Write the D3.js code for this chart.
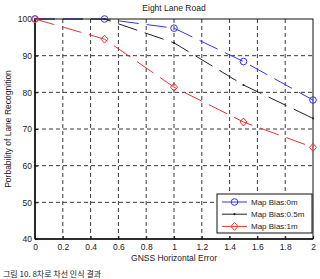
<!DOCTYPE html>
<html>
<head>
<meta charset="utf-8">
<script src="https://cdn.jsdelivr.net/npm/d3@7"></script>
<style>
  body { margin: 0; background: #fff; }
  text { font-family: "Liberation Sans", Arial, sans-serif; fill: #222; }
</style>
</head>
<body>
<svg id="chart" width="320" height="279"></svg>
<script>
// data
const errors = [0, 0.5, 1, 1.5, 2];
const bias0 = [100, 100, 97.5, 88.4, 77.9];
const bias05 = [100, 100, 93.5, 82, 72.9];
const bias1 = [100, 94.5, 81.4, 71.9, 65];
const seriesNames = ["Map Bias:0m", "Map Bias:0.5m", "Map Bias:1m"];
const xTicks = [0, 0.2, 0.4, 0.6, 0.8, 1, 1.2, 1.4, 1.6, 1.8, 2];
const yTicks = [40, 50, 60, 70, 80, 90, 100];

const svg = d3.select("#chart");
const m = {left: 35, right: 313, top: 19, bottom: 239};

const x = d3.scaleLinear().domain([0, 2]).range([m.left, m.right]);
const y = d3.scaleLinear().domain([40, 100]).range([m.bottom, m.top]);

// grid
svg.append("g").selectAll("line").data(xTicks.slice(1, -1)).enter().append("line")
    .attr("x1", d => x(d)).attr("x2", d => x(d))
    .attr("y1", m.top).attr("y2", m.bottom)
    .attr("stroke", "#222").attr("stroke-width", 0.9).attr("stroke-dasharray", "4,3");
svg.append("g").selectAll("line").data(yTicks.slice(1, -1)).enter().append("line")
    .attr("y1", d => y(d)).attr("y2", d => y(d))
    .attr("x1", m.left).attr("x2", m.right)
    .attr("stroke", "#222").attr("stroke-width", 0.9).attr("stroke-dasharray", "4,3");

// axes
const xAxis = d3.axisBottom(x).tickValues(xTicks).tickSize(-3).tickPadding(5)
    .tickFormat(d => d3.format("~g")(d));
const yAxis = d3.axisLeft(y).tickValues(yTicks).tickSize(-3).tickPadding(3);
const gx = svg.append("g").attr("transform", `translate(0,${m.bottom})`).call(xAxis);
const gy = svg.append("g").attr("transform", `translate(${m.left},0)`).call(yAxis);
[gx, gy].forEach(g => {
    g.select(".domain").remove();
    g.selectAll("line").attr("stroke", "#222");
    g.selectAll("text").style("font-size", "8.5px").attr("fill", "#333");
});
// frame
svg.append("rect").attr("x", m.left).attr("y", m.top)
    .attr("width", m.right - m.left).attr("height", m.bottom - m.top)
    .attr("fill", "none").attr("stroke", "#111").attr("stroke-width", 1);
svg.append("line").attr("x1", m.left).attr("x2", m.left).attr("y1", m.top).attr("y2", m.bottom)
    .attr("stroke", "#111").attr("stroke-width", 1.6);
svg.append("line").attr("x1", m.left).attr("x2", m.right).attr("y1", m.bottom).attr("y2", m.bottom)
    .attr("stroke", "#111").attr("stroke-width", 1.6);

// series
const series = [
    {name: seriesNames[0], values: bias0, color: "#3333ee", marker: "circle"},
    {name: seriesNames[1], values: bias05, color: "#222222", marker: "dot"},
    {name: seriesNames[2], values: bias1, color: "#ee3333", marker: "diamond"}
];
const line = d3.line().x(d => x(d[0])).y(d => y(d[1]));

function drawMarker(g, mk, cx, cy, color) {
    if (mk === "circle") {
        g.append("circle").attr("cx", cx).attr("cy", cy).attr("r", 3.3)
            .attr("fill", "none").attr("stroke", color).attr("stroke-width", 1);
    } else if (mk === "diamond") {
        g.append("path").attr("d", `M${cx},${cy - 4}L${cx + 3.5},${cy}L${cx},${cy + 4}L${cx - 3.5},${cy}Z`)
            .attr("fill", "none").attr("stroke", color).attr("stroke-width", 1);
    } else {
        g.append("circle").attr("cx", cx).attr("cy", cy).attr("r", 1.1).attr("fill", color);
    }
}

series.forEach(s => {
    const pts = errors.map((e, i) => [e, s.values[i]]);
    const g = svg.append("g");
    g.append("path").datum(pts).attr("d", line)
        .attr("fill", "none").attr("stroke", s.color).attr("stroke-width", 1)
        .attr("stroke-dasharray", "20,8");
    pts.forEach(p => drawMarker(g, s.marker, x(p[0]), y(p[1]), s.color));
});

// legend
const lg = svg.append("g").attr("transform", "translate(217,194)");
lg.append("rect").attr("width", 95).attr("height", 39)
    .attr("fill", "#fff").attr("stroke", "#111").attr("stroke-width", 1);
series.forEach((s, i) => {
    const ly = 8 + i * 12.2;
    lg.append("line").attr("x1", 5).attr("x2", 30).attr("y1", ly).attr("y2", ly)
        .attr("stroke", s.color).attr("stroke-width", 1);
    drawMarker(lg, s.marker, 17.5, ly, s.color);
    lg.append("text").attr("x", 34).attr("y", ly + 3).style("font-size", "8px")
        .attr("fill", "#333").text(s.name);
});

// titles
svg.append("text").attr("x", (m.left + m.right) / 2).attr("y", 11)
    .attr("text-anchor", "middle").style("font-size", "8.5px").text("Eight Lane Road");
svg.append("text").attr("x", (m.left + m.right) / 2).attr("y", 261)
    .attr("text-anchor", "middle").style("font-size", "8.5px").text("GNSS Horizontal Error");
svg.append("text").attr("transform", `translate(11,${(m.top + m.bottom) / 2}) rotate(-90)`)
    .attr("text-anchor", "middle").style("font-size", "8.5px").text("Porbability of Lane Recognition");

// caption (mostly cut off in the source image)
svg.append("text").attr("x", 3).attr("y", 277)
    .style("font-family", "'Noto Sans CJK KR', sans-serif").style("font-size", "8px")
    .attr("fill", "#444").text("그림 10. 8차로 차선 인식 결과");
</script>
</body>
</html>
